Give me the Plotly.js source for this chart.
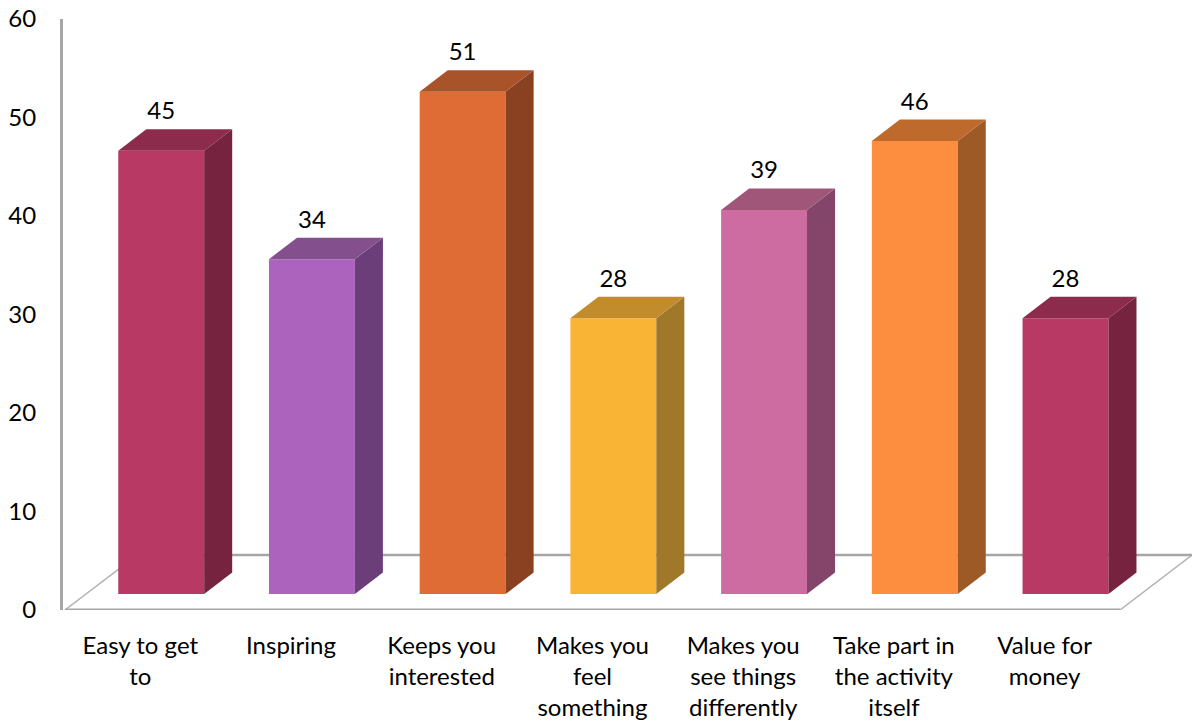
<!DOCTYPE html>
<html>
<head>
<meta charset="utf-8">
<script src="https://cdn.plot.ly/plotly-3.0.1.min.js"></script>
<style>html,body{margin:0;padding:0;background:#fff;}#chart{width:1192px;height:722px;}</style>
</head>
<body>
<div id="chart"></div>
<script>
// ---- data ----
const categories = ["Easy to get to", "Inspiring", "Keeps you interested", "Makes you feel something", "Makes you see things differently", "Take part in the activity itself", "Value for money"];
const tickLabels = ["Easy to get<br>to", "Inspiring", "Keeps you<br>interested", "Makes you<br>feel<br>something", "Makes you<br>see things<br>differently", "Take part in<br>the activity<br>itself", "Value for<br>money"];
const values = [45, 34, 51, 28, 39, 46, 28];
const frontColors = ["#B83A64", "#AB63BD", "#DF6B35", "#F9B436", "#CD6CA1", "#FD8E3F", "#B83A64"];
const topColors   = ["#8C2B4B", "#83508D", "#A9532A", "#C28C2D", "#A05679", "#BE6A2C", "#8C2B4B"];
const sideColors  = ["#75233F", "#6B3E79", "#8A4122", "#A07829", "#834569", "#9E5A26", "#75233F"];

// ---- 3D geometry (in axis units) ----
const xs = categories.map((c, i) => i);
const floorDX = 0.478, floorDY = 5.58;   // floor depth vector
const frontFrac = 0.29;                  // bar front sits this far into floor depth
const shiftX = floorDX * frontFrac, base = floorDY * frontFrac;
const halfW = 0.285;
const barDX = 0.186, barDY = 2.18;       // bar depth vector
const labelGap = 3.8;

const traces = [];
const xr = [-0.513, 6.5 + floorDX];
const fl = [-0.5, 6.5];

// floor (drawn as shapes below traces)
const shapes = [
  {type: "path", xref: "x", yref: "y", layer: "below",
   path: `M ${fl[0]} 0 L ${fl[1]} 0 L ${fl[1] + floorDX} ${floorDY} L ${fl[0] + floorDX} ${floorDY} Z`,
   fillcolor: "#ffffff", line: {width: 0}},
  {type: "line", xref: "x", yref: "y", layer: "below", x0: fl[0], y0: 0, x1: fl[0] + floorDX, y1: floorDY, line: {color: "#b3b3b3", width: 1.5}},
  {type: "line", xref: "x", yref: "y", layer: "below", x0: fl[1], y0: 0, x1: fl[1] + floorDX, y1: floorDY, line: {color: "#b3b3b3", width: 1.5}},
  {type: "line", xref: "x", yref: "y", layer: "below", x0: fl[0] + floorDX, y0: floorDY, x1: fl[1] + floorDX, y1: floorDY, line: {color: "#a6a6a6", width: 2.5}},
  {type: "line", xref: "x", yref: "y", layer: "below", x0: fl[0], y0: 0, x1: fl[1], y1: 0, line: {color: "#a6a6a6", width: 3}}
];

// bar fronts
traces.push({type: "bar", x: xs, y: values, base: base, offset: shiftX - halfW, width: 2 * halfW,
  marker: {color: frontColors, line: {width: 0}}, text: categories, hovertemplate: "%{text}: %{y}<extra></extra>", textposition: "none", showlegend: false});

// sides and tops
values.forEach((v, i) => {
  const x0 = i + shiftX - halfW, x1 = i + shiftX + halfW, t = base + v;
  traces.push({type: "scatter", mode: "lines", x: [x1, x1 + barDX, x1 + barDX, x1, x1], y: [base, base + barDY, t + barDY, t, base],
    fill: "toself", fillcolor: sideColors[i], line: {width: 0, color: sideColors[i]}, hoverinfo: "skip", showlegend: false});
  traces.push({type: "scatter", mode: "lines", x: [x0, x0 + barDX, x1 + barDX, x1, x0], y: [t, t + barDY, t + barDY, t, t],
    fill: "toself", fillcolor: topColors[i], line: {width: 0, color: topColors[i]}, hoverinfo: "skip", showlegend: false});
});

// data labels
traces.push({type: "scatter", mode: "text", x: xs.map(i => i + shiftX), y: values.map(v => base + v + labelGap),
  text: values.map(String), textposition: "middle center", cliponaxis: false,
  textfont: {family: "Lato, 'Open Sans', sans-serif", size: 24, color: "#000"}, hoverinfo: "skip", showlegend: false});

const layout = {
  width: 1192, height: 722,
  margin: {l: 63, r: 0, t: 19, b: 112},
  paper_bgcolor: "#fff", plot_bgcolor: "#fff",
  font: {family: "Lato, 'Open Sans', sans-serif", size: 24, color: "#000"},
  showlegend: false,
  shapes: shapes,
  xaxis: {range: xr, tickvals: xs, ticktext: tickLabels, showgrid: false, zeroline: false, showline: false,
    ticks: "outside", ticklen: 14, tickcolor: "rgba(0,0,0,0)", tickfont: {size: 24}, fixedrange: true},
  yaxis: {range: [0, 60], dtick: 10, tick0: 0, showgrid: false, zeroline: false, showline: true,
    linecolor: "#a6a6a6", linewidth: 3, ticks: "outside", ticklen: 19, tickcolor: "rgba(0,0,0,0)",
    tickfont: {size: 24}, fixedrange: true}
};

Plotly.newPlot("chart", traces, layout, {displayModeBar: false});
</script>
</body>
</html>
